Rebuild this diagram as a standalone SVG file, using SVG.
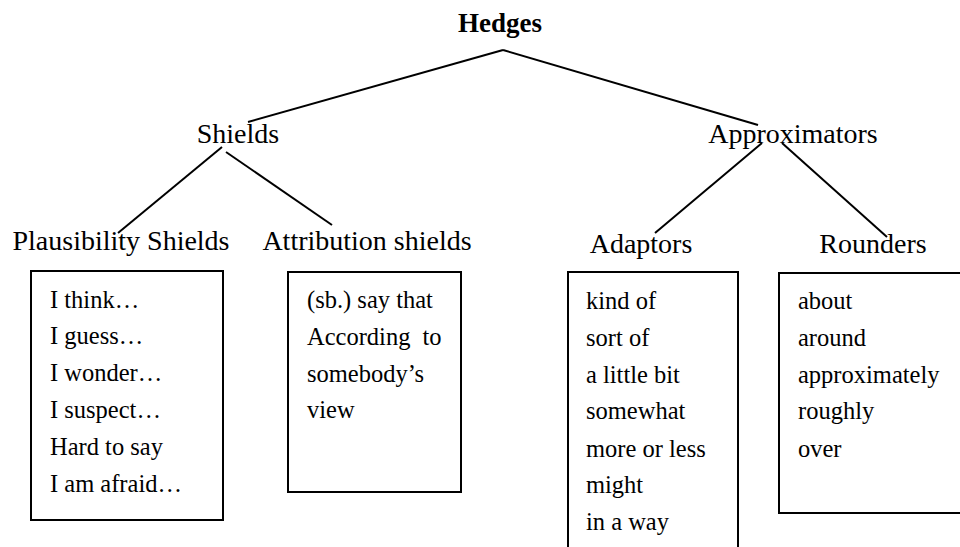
<svg xmlns="http://www.w3.org/2000/svg" width="960" height="547" viewBox="0 0 960 547">
<style>
  .lbl { font-family: "Liberation Serif", "Times New Roman", serif; font-size: 28px; fill: #000; }
  .title { font-family: "Liberation Serif", "Times New Roman", serif; font-size: 27px; font-weight: bold; fill: #000; }
  .item { font-family: "Liberation Serif", "Times New Roman", serif; font-size: 24.5px; fill: #000; }
  .box { fill: none; stroke: #000; stroke-width: 2; }
  .edge { stroke: #000; stroke-width: 2; fill: none; }
</style>
<rect width="960" height="547" fill="#fff"/>
<g id="connectors">
  <line class="edge" x1="503" y1="50" x2="248" y2="122"/>
  <line class="edge" x1="503" y1="50" x2="758" y2="125"/>
  <line class="edge" x1="222" y1="147" x2="118" y2="233"/>
  <line class="edge" x1="226" y1="152" x2="332" y2="225"/>
  <line class="edge" x1="762" y1="143" x2="655" y2="233"/>
  <line class="edge" x1="782" y1="143" x2="887" y2="237"/>
</g>
<g id="hedges"><text class="title" x="500" y="32" text-anchor="middle">Hedges</text></g>
<g id="shields"><text class="lbl" x="238" y="143" text-anchor="middle">Shields</text></g>
<g id="approximators"><text class="lbl" x="793" y="143" text-anchor="middle">Approximators</text></g>
<g id="plausibility-shields">
  <text class="lbl" x="121" y="250" text-anchor="middle">Plausibility Shields</text>
  <rect class="box" x="31" y="271" width="192" height="249"/>
  <text class="item" x="50" y="308">I think…</text>
  <text class="item" x="50" y="344">I guess…</text>
  <text class="item" x="50" y="381">I wonder…</text>
  <text class="item" x="50" y="418">I suspect…</text>
  <text class="item" x="50" y="455">Hard to say</text>
  <text class="item" x="50" y="492">I am afraid…</text>
</g>
<g id="attribution-shields">
  <text class="lbl" x="367" y="250" text-anchor="middle">Attribution shields</text>
  <rect class="box" x="288" y="272" width="173" height="220"/>
  <text class="item" x="307" y="308">(sb.) say that</text>
  <text class="item" x="307" y="345" word-spacing="6">According to</text>
  <text class="item" x="307" y="382">somebody’s</text>
  <text class="item" x="307" y="418">view</text>
</g>
<g id="adaptors">
  <text class="lbl" x="641" y="253" text-anchor="middle">Adaptors</text>
  <rect class="box" x="568" y="272" width="170" height="300"/>
  <text class="item" x="586" y="309">kind of</text>
  <text class="item" x="586" y="346">sort of</text>
  <text class="item" x="586" y="383">a little bit</text>
  <text class="item" x="586" y="419">somewhat</text>
  <text class="item" x="586" y="457">more or less</text>
  <text class="item" x="586" y="493">might</text>
  <text class="item" x="586" y="530">in a way</text>
</g>
<g id="rounders">
  <text class="lbl" x="873" y="253" text-anchor="middle">Rounders</text>
  <rect class="box" x="779" y="273" width="200" height="240"/>
  <text class="item" x="798" y="309">about</text>
  <text class="item" x="798" y="346">around</text>
  <text class="item" x="798" y="383">approximately</text>
  <text class="item" x="798" y="419">roughly</text>
  <text class="item" x="798" y="457">over</text>
</g>
</svg>
